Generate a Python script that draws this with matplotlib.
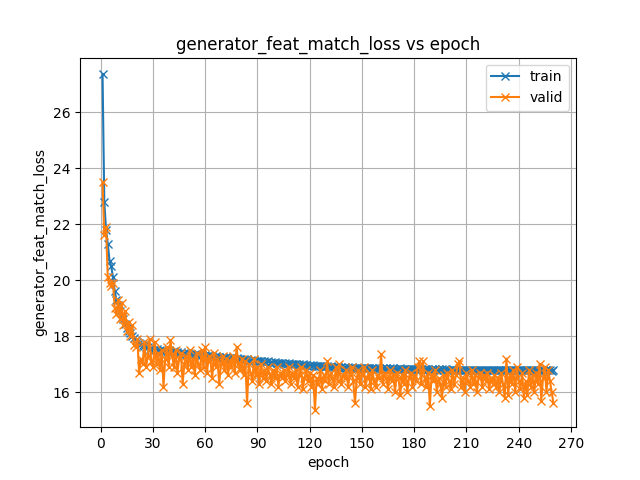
import matplotlib
matplotlib.use("Agg")
import matplotlib.pyplot as plt

# train loss per epoch
train = [
    27.35, 22.8, 21.8, 21.3, 20.7, 20.5, 20.1, 19.6, 19.3, 19.1,
    18.9, 18.7, 18.6, 18.45, 18.3, 18.2, 18.1, 18.0, 17.95, 17.85,
    17.8, 17.75, 17.72, 17.68, 17.65, 17.6, 17.62, 17.55, 17.58, 17.52,
    17.5, 17.55, 17.48, 17.52, 17.45, 17.5, 17.47, 17.43, 17.49, 17.44,
    17.42, 17.46, 17.4, 17.44, 17.38, 17.42, 17.37, 17.41, 17.36, 17.39,
    17.35, 17.38, 17.33, 17.37, 17.32, 17.35, 17.31, 17.34, 17.3, 17.33,
    17.29, 17.32, 17.27, 17.3, 17.26, 17.29, 17.25, 17.27, 17.23, 17.26,
    17.22, 17.25, 17.21, 17.23, 17.2, 17.22, 17.18, 17.21, 17.17, 17.19,
    17.16, 17.18, 17.15, 17.17, 17.13, 17.16, 17.12, 17.14, 17.11, 17.13,
    17.1, 17.12, 17.09, 17.11, 17.07, 17.1, 17.06, 17.08, 17.05, 17.07,
    17.04, 17.06, 17.03, 17.05, 17.02, 17.04, 17.01, 17.03, 17.0, 17.02,
    16.99, 17.01, 16.98, 17.0, 16.97, 16.99, 16.96, 16.98, 16.95, 16.97,
    16.95, 16.96, 16.93, 16.95, 16.92, 16.94, 16.92, 16.93, 16.91, 16.92,
    16.9, 16.92, 16.9, 16.91, 16.89, 16.91, 16.88, 16.9, 16.88, 16.89,
    16.88, 16.89, 16.87, 16.89, 16.86, 16.88, 16.86, 16.87, 16.86, 16.87,
    16.85, 16.87, 16.85, 16.86, 16.84, 16.86, 16.85, 16.86, 16.84, 16.85,
    16.84, 16.86, 16.84, 16.85, 16.83, 16.85, 16.84, 16.85, 16.83, 16.84,
    16.83, 16.85, 16.83, 16.84, 16.82, 16.84, 16.83, 16.84, 16.82, 16.83,
    16.82, 16.84, 16.82, 16.83, 16.81, 16.83, 16.82, 16.83, 16.81, 16.82,
    16.81, 16.83, 16.81, 16.82, 16.81, 16.82, 16.8, 16.82, 16.81, 16.81,
    16.8, 16.82, 16.8, 16.81, 16.8, 16.81, 16.8, 16.81, 16.79, 16.81,
    16.8, 16.81, 16.79, 16.8, 16.79, 16.81, 16.8, 16.8, 16.79, 16.8,
    16.79, 16.81, 16.79, 16.8, 16.78, 16.8, 16.79, 16.8, 16.78, 16.8,
    16.79, 16.8, 16.78, 16.8, 16.79, 16.79, 16.78, 16.8, 16.78, 16.79,
    16.78, 16.8, 16.78, 16.79, 16.78, 16.79, 16.78, 16.79, 16.77, 16.79,
    16.78, 16.79, 16.77, 16.78, 16.77, 16.79, 16.78, 16.78, 16.77, 16.78,
]

# validation loss per epoch
valid = [
    23.5, 21.6, 21.9, 20.1, 19.9, 19.8, 19.9, 19.0, 18.8, 19.3,
    18.6, 19.2, 18.4, 18.9, 18.2, 18.5, 18.0, 18.4, 17.7, 17.6,
    17.9, 16.7, 17.2, 17.0, 17.8, 16.9, 17.3, 17.9, 17.1, 16.9,
    17.8, 17.0, 17.4, 16.8, 17.5, 16.2, 17.2, 17.6, 16.9, 17.85,
    17.3, 16.9, 17.5, 16.7, 17.2, 17.4, 16.3, 17.0, 17.3, 16.8,
    17.5, 16.9, 17.2, 16.6, 17.4, 17.0, 16.8, 17.5, 16.9, 17.6,
    16.7, 17.3, 17.1, 16.5, 17.4, 16.9, 17.2, 16.3, 17.0, 17.3,
    16.8, 17.2, 16.6, 17.1, 16.9, 17.3, 16.7, 17.6, 17.0, 16.8,
    17.2, 16.6, 17.1, 15.6, 17.0, 16.7, 16.4, 17.2, 16.6, 16.9,
    16.3, 17.0, 16.5, 16.8, 16.4, 16.9, 16.6, 16.3, 16.8, 16.5,
    16.9, 16.2, 16.7, 16.5, 16.8, 16.4, 16.6, 16.9, 16.3, 16.7,
    16.5, 16.8, 16.2, 16.6, 16.9, 16.1, 16.5, 16.8, 16.4, 16.7,
    16.2, 16.6, 15.35, 16.5, 16.3, 16.8, 16.1, 16.6, 16.4, 17.1,
    16.3, 16.7, 16.5, 16.2, 16.9, 16.4, 17.0, 16.3, 16.6, 16.5,
    16.8, 16.2, 16.6, 16.9, 16.4, 15.6, 16.5, 16.8, 16.3, 16.6,
    16.9, 16.2, 16.5, 16.7, 16.1, 16.8, 16.4, 16.2, 16.6, 16.5,
    17.35, 16.3, 16.7, 16.5, 16.1, 16.8, 16.4, 16.6, 16.0, 16.7,
    16.5, 15.9, 16.6, 16.3, 16.8, 16.0, 16.5, 16.7, 16.2, 16.6,
    16.4, 16.9, 17.1, 16.3, 17.1, 16.5, 16.2, 16.7, 15.5, 16.6,
    16.4, 16.8, 16.0, 16.5, 16.3, 15.8, 16.6, 16.2, 16.7, 16.4,
    16.1, 16.8, 16.3, 16.6, 17.0, 17.1, 16.2, 16.5, 16.0, 16.7,
    16.4, 16.2, 16.8, 16.3, 16.6, 16.0, 16.5, 16.7, 16.2, 16.6,
    16.4, 16.7, 16.1, 16.5, 16.3, 16.6, 16.2, 16.5, 16.0, 16.7,
    16.3, 15.8, 17.2, 15.9, 16.6, 16.3, 16.8, 16.0, 16.9, 16.4,
    16.1, 16.7, 15.8, 16.4, 15.9, 16.8, 16.2, 16.6, 16.0, 16.7,
    16.3, 17.0, 15.7, 16.5, 16.9, 16.0, 16.8, 16.4, 16.0, 15.6,
]

epochs = list(range(1, len(train) + 1))

fig, ax = plt.subplots(figsize=(6.4, 4.8), dpi=100)
ax.plot(epochs, train, marker='x', label='train')
ax.plot(epochs, valid, marker='x', label='valid')
ax.set_xticks(range(0, 271, 30))
ax.set_xlabel('epoch')
ax.set_ylabel('generator_feat_match_loss')
ax.set_title('generator_feat_match_loss vs epoch')
ax.grid(True)
ax.legend(loc='upper right')
fig.savefig('out.png')
